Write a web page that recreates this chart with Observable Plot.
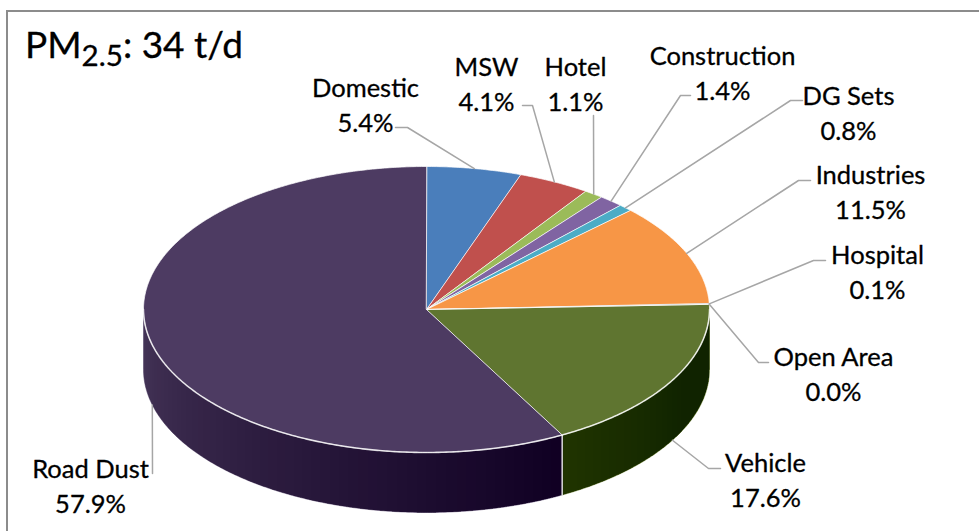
<!DOCTYPE html>
<html><head><meta charset="utf-8">
<script src="https://cdn.jsdelivr.net/npm/d3@7"></script>
<script src="https://cdn.jsdelivr.net/npm/@observablehq/plot@0.6"></script>
<style>
html,body{margin:0;padding:0;background:#fff;}
#wrap{position:relative;width:979px;height:531px;overflow:hidden;background:#fff;font-family:Lato,sans-serif;}
#chart{position:absolute;left:0;top:0;}
#frame{position:absolute;left:6px;top:10px;width:1100px;height:700px;border:2px solid #8c8c8c;box-sizing:border-box;pointer-events:none;}
#title{position:absolute;left:25px;top:24.5px;font-size:37px;line-height:1;color:#000;white-space:nowrap;-webkit-text-stroke:0.3px #000;}
#title .sub{font-size:0.8em;position:relative;top:0.28em;}
</style></head>
<body>
<div id="wrap"><div id="chart"></div><div id="frame"></div><div id="title"></div></div>
<script>
// ---------- data ----------
const titleMain = "PM";
const titleSub = "2.5";
const titleRest = ": 34 t/d";
const categories = ["Domestic","MSW","Hotel","Construction","DG Sets","Industries","Hospital","Open Area","Vehicle","Road Dust"];
const shares = [5.4, 4.1, 1.1, 1.4, 0.8, 11.5, 0.1, 0.0, 17.6, 57.9];
const sliceColors = ["#4A7EBB","#C0504D","#9BBB59","#8064A2","#4BACC6","#F79646","#2C4D75","#772C2A","#5F7530","#4D3B62"];

// ---------- layout ----------
const W = 979, H = 531;
const pie = {cx: 426, cy: 309, rx: 283, ry: 143, depth: 60};
// [label x, label block centre y, leader attach x, attach y, stub length]
const labelLayout = [
  [365, 102.5, 395, 127, 12],
  [486, 81.5, 522, 105, 10],
  [575, 81.5, 593, 115, 0],
  [722, 70.5, 690, 95, 10],
  [848, 110.5, 802, 100, 12],
  [870, 190, 810, 180, 12],
  [877, 270, 825, 260, 12],
  [833, 371.5, 768, 362, 10],
  [765, 478, 720, 468, 12],
  [90, 483.5, 152, 473, 0]
];

document.getElementById("title").innerHTML =
  `${titleMain}<span class="sub">${titleSub}</span>${titleRest}`;

const fmt = d3.format(".1f");
const total = d3.sum(shares);
let acc = 0;
const slices = categories.map((name, i) => {
  const a0 = acc / total * 2 * Math.PI; acc += shares[i];
  const a1 = acc / total * 2 * Math.PI;
  return {name, value: shares[i], a0, a1, mid: (a0 + a1) / 2, i};
});

const pt = (t, dz = 0) => [pie.cx + pie.rx * Math.sin(t), pie.cy - pie.ry * Math.cos(t) + dz];
const arc = (t0, t1, dz = 0) => {
  const n = Math.max(2, Math.ceil(Math.abs(t1 - t0) / (Math.PI / 360)));
  return d3.range(n + 1).map(k => pt(t0 + (t1 - t0) * k / n, dz));
};
const poly = (ring, props) => ({type: "Feature", properties: props, geometry: {type: "Polygon", coordinates: [[...ring, ring[0]]]}});
const lineF = (pts, props = {}) => ({type: "Feature", properties: props, geometry: {type: "LineString", coordinates: pts}});

const F0 = Math.PI / 2, F1 = 3 * Math.PI / 2;

// side walls
const sides = slices.flatMap(s => {
  const lo = Math.max(s.a0, F0), hi = Math.min(s.a1, F1);
  if (hi <= lo) return [];
  return [poly([...arc(lo, hi), ...arc(hi, lo, pie.depth)], {name: s.name})];
});

// shading layers for side (darker toward the right)
const step = Math.PI / 90;
const N = Math.round((F1 - F0) / step);
const bright = t => { const u = (t - F0) / (F1 - F0); return 0.55 + 0.35 * u * u; };
const B = d3.range(1, N + 1).map(k => bright(F0 + k * step));
const layers = d3.range(N).map(k => {
  const tk = F0 + (k + 1) * step;
  const ratio = k === N - 1 ? B[k] : B[k] / B[k + 1];
  return poly([...arc(F0, tk), ...arc(tk, F0, pie.depth)], {op: 1 - ratio});
});

// seams on the side
const seams = slices.filter(s => s.a1 > F0 && s.a1 < F1).map(s => lineF([pt(s.a1), pt(s.a1, pie.depth)]));

// top surface
const tops = slices.filter(s => s.a1 > s.a0).map(s => poly([[pie.cx, pie.cy], ...arc(s.a0, s.a1)], {name: s.name}));
const zeroEdges = slices.filter(s => s.a1 === s.a0).map(s => lineF([[pie.cx, pie.cy], pt(s.a0)]));
const rim = [lineF(arc(F0, F1))];

// leaders
const leaders = slices.map(s => {
  const L = labelLayout[s.i];
  const front = s.mid > F0 && s.mid < F1;
  const anchor = pt(s.mid, front ? pie.depth : 0);
  const attach = [L[2], L[3]];
  const dir = Math.sign(anchor[0] - attach[0]);
  const pts = L[4] ? [attach, [attach[0] + dir * L[4], attach[1]], anchor] : [attach, anchor];
  return lineF(pts);
});

const labels = slices.map(s => ({
  x: labelLayout[s.i][0], y: labelLayout[s.i][1],
  text: `${s.name}\n${fmt(s.value)}%`
}));

const frameGeo = {type: "Polygon", coordinates: [[[0,0],[W,0],[W,H],[0,H],[0,0]]]};

const chart = Plot.plot({
  width: W, height: H, margin: 0,
  style: {background: "transparent", fontFamily: "Lato, sans-serif"},
  projection: {type: "identity", domain: frameGeo},
  color: {type: "ordinal", domain: categories, range: sliceColors},
  opacity: {type: "identity"},
  marks: [
    Plot.geo(sides, {fill: d => d.properties.name, stroke: d => d.properties.name, strokeWidth: 0.5}),
    Plot.geo(layers, {fill: "black", fillOpacity: d => d.properties.op}),
    Plot.geo(seams, {fill: "none", stroke: "white", strokeWidth: 1.5, strokeOpacity: 0.85}),
    Plot.geo(tops, {fill: d => d.properties.name, stroke: "white", strokeWidth: 1, strokeOpacity: 0.7, strokeLinejoin: "round"}),
    Plot.geo(zeroEdges, {fill: "none", stroke: "white", strokeWidth: 1, strokeOpacity: 0.7}),
    Plot.geo(rim, {fill: "none", stroke: "white", strokeWidth: 1.6, strokeOpacity: 0.7}),
    Plot.geo(leaders, {fill: "none", stroke: "#a6a6a6", strokeWidth: 1.5}),
    Plot.text(labels, {x: "x", y: "y", text: "text", fontSize: 25.5, lineHeight: 1.37, fill: "black", stroke: "black", strokeWidth: 0.3, fontFamily: "Lato, sans-serif"})
  ]
});
document.getElementById("chart").appendChild(chart);
</script>
</body></html>
